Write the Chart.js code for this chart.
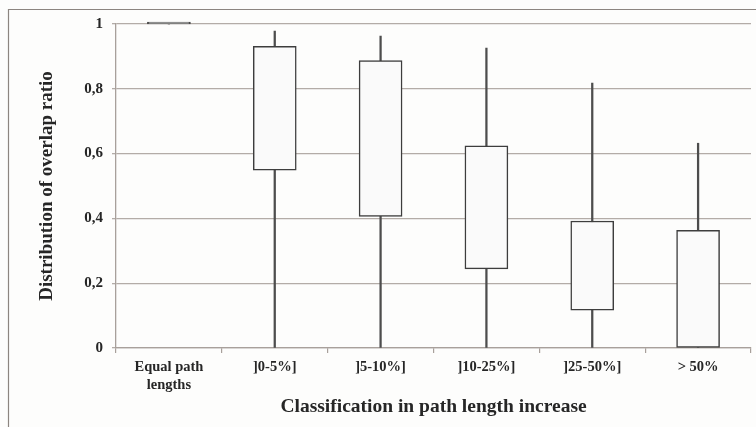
<!DOCTYPE html>
<html>
<head>
<meta charset="utf-8">
<script src="https://cdn.jsdelivr.net/npm/chart.js@4.4.1/dist/chart.umd.min.js"></script>
<style>
  html, body { margin: 0; padding: 0; background: #fdfdfc; }
  #wrap { width: 756px; height: 427px; position: relative; }
</style>
</head>
<body>
<div id="wrap"><canvas id="c"></canvas></div>
<script>
const categories = [['Equal path', 'lengths'], ']0-5%]', ']5-10%]', ']10-25%]', ']25-50%]', '> 50%'];
const whiskerMin = [1, 0, 0, 0, 0, 0];
const whiskerMax = [1, 0.978, 0.963, 0.926, 0.818, 0.632];
const boxLow = [1, 0.549, 0.406, 0.244, 0.117, 0];
const boxHigh = [1, 0.931, 0.887, 0.624, 0.392, 0.363];
const yTicks = [0, 0.2, 0.4, 0.6, 0.8, 1];

const whiskers = whiskerMin.map((v, i) => [v, whiskerMax[i]]);
const boxes = boxLow.map((v, i) => [v, boxHigh[i]]);

const framePlugin = {
  id: 'frame',
  beforeDraw(chart) {
    const ctx = chart.ctx;
    ctx.save();
    ctx.fillStyle = '#fdfdfc';
    ctx.fillRect(0, 0, chart.width, chart.height);
    ctx.strokeStyle = '#8c8580';
    ctx.lineWidth = 1.2;
    ctx.beginPath();
    ctx.moveTo(8.5, chart.height);
    ctx.lineTo(8.5, 9.5);
    ctx.lineTo(chart.width, 9.5);
    ctx.stroke();
    ctx.restore();
  }
};

new Chart(document.getElementById('c'), {
  type: 'bar',
  data: {
    labels: categories,
    datasets: [
      {
        label: 'whiskers',
        data: whiskers,
        grouped: false,
        barThickness: 1.6,
        backgroundColor: '#4d4d4d',
        borderWidth: 0,
        order: 2
      },
      {
        label: 'boxes',
        data: boxes,
        grouped: false,
        clip: false,
        barThickness: 43,
        minBarLength: 2,
        backgroundColor: '#fafafa',
        borderColor: '#3d3d3d',
        borderWidth: 1.5,
        borderSkipped: false,
        order: 1
      }
    ]
  },
  options: {
    responsive: true,
    maintainAspectRatio: false,
    animation: false,
    devicePixelRatio: 1,
    layout: { padding: { left: 8, right: 5, top: 24, bottom: 0 } },
    plugins: { legend: { display: false }, tooltip: { enabled: false } },
    scales: {
      x: {
        grid: { display: true, drawOnChartArea: false, offset: true, tickLength: 5, color: '#a8a09b', lineWidth: 1.2 },
        border: { display: true, color: '#a8a09b', width: 1.3 },
        ticks: {
          padding: 6,
          color: '#262626',
          maxRotation: 0,
          font: { family: 'Liberation Serif', weight: 'bold', size: 14.5 }
        },
        title: {
          display: true,
          text: 'Classification in path length increase',
          color: '#262626',
          padding: { top: 0, bottom: 8.6 },
          font: { family: 'Liberation Serif', weight: 'bold', size: 19.5 }
        },
        afterFit(scale) { scale.height = 79; }
      },
      y: {
        min: 0,
        max: 1,
        afterBuildTicks(scale) { scale.ticks = yTicks.map(v => ({ value: v })); },
        grid: { color: '#b3aca7', lineWidth: 1.3, tickLength: 4, drawTicks: true },
        border: { display: true, color: '#a8a09b', width: 1.3 },
        ticks: {
          padding: 9,
          color: '#262626',
          font: { family: 'Liberation Serif', weight: 'bold', size: 15 },
          callback: (v) => String(v).replace('.', ',')
        },
        title: {
          display: true,
          text: 'Distribution of overlap ratio',
          color: '#262626',
          padding: { top: 27.6, bottom: 0 },
          font: { family: 'Liberation Serif', weight: 'bold', size: 19 }
        },
        afterFit(scale) { scale.width = 108; }
      }
    }
  },
  plugins: [framePlugin]
});
</script>
</body>
</html>
